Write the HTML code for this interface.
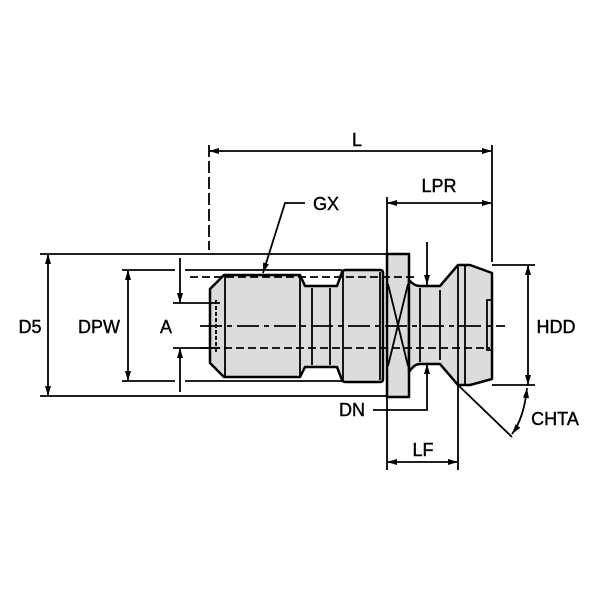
<!DOCTYPE html>
<html><head><style>body{margin:0;background:#fff}svg{display:block}text{font-family:"Liberation Sans",Arial,sans-serif;font-size:18px;fill:#000;stroke:#000;stroke-width:0.4}</style></head>
<body>
<svg width="600" height="600" viewBox="0 0 600 600" xmlns="http://www.w3.org/2000/svg">
<defs><marker id="a" viewBox="0 0 10 6" refX="10" refY="3" markerWidth="11" markerHeight="6" orient="auto-start-reverse" markerUnits="userSpaceOnUse"><path d="M0,0L10,3L0,6z" fill="#000"/></marker></defs>
<g fill="#dcdcdc" stroke="#000" stroke-width="2.5" stroke-linejoin="round">
<path d="M224,275 H300 L305,286 H337 L342,272 Q343,270 346,270 H380 Q383,270 383,273 V379 Q383,382 380,382 H346 Q343,382 342,380 L337,367 H305 L300,377 H224 L210,363 V289 Z"/>
<rect x="387" y="254" width="22" height="143"/>
<path d="M409,280 Q414,286 420,286 H440 L458,265 H470 L492,273 V379 L470,385 H458 L440,364 H420 Q414,364 409,372 Z"/>
</g>
<g stroke="#000" stroke-width="1.8" fill="none">
<line x1="225" y1="275" x2="225" y2="377"/><line x1="300" y1="275" x2="300" y2="377"/>
<line x1="312" y1="288" x2="312" y2="365"/><line x1="330" y1="288" x2="330" y2="365"/>
<line x1="343" y1="272" x2="343" y2="380"/><line x1="380" y1="272" x2="380" y2="380"/>
<line x1="388" y1="284" x2="408" y2="366"/><line x1="408" y1="284" x2="388" y2="366"/>
<line x1="420" y1="288" x2="420" y2="362"/><line x1="440" y1="290" x2="440" y2="360"/>
<line x1="458" y1="266" x2="458" y2="384"/><line x1="465" y1="266" x2="465" y2="384"/>
<path d="M492,300 H487 V350 H492"/>
<path d="M216,300 V352" stroke-dasharray="4,2"/>
<line x1="190" y1="277" x2="415" y2="277" stroke-dasharray="8,4"/>
<line x1="200" y1="348" x2="490" y2="348" stroke-dasharray="8,4"/>
<line x1="200" y1="326" x2="505" y2="326" stroke-dasharray="22,5,5,5"/>
<line x1="209" y1="145" x2="209" y2="250" stroke-dasharray="12,4"/>
<line x1="492" y1="145" x2="492" y2="262"/>
<line x1="209" y1="151" x2="492" y2="151" marker-start="url(#a)" marker-end="url(#a)"/>
<line x1="387" y1="197" x2="387" y2="254"/>
<line x1="387" y1="203" x2="492" y2="203" marker-start="url(#a)" marker-end="url(#a)"/>
<polyline points="305,203 285,203 263,273" marker-end="url(#a)"/>
<line x1="40" y1="254" x2="387" y2="254"/><line x1="40" y1="396" x2="387" y2="396"/>
<line x1="48" y1="254" x2="48" y2="396" marker-start="url(#a)" marker-end="url(#a)"/>
<line x1="122" y1="270" x2="175" y2="270"/><line x1="185" y1="270" x2="342" y2="270"/>
<line x1="122" y1="381" x2="175" y2="381"/><line x1="185" y1="381" x2="342" y2="381"/>
<line x1="128" y1="270" x2="128" y2="381" marker-start="url(#a)" marker-end="url(#a)"/>
<line x1="173" y1="303" x2="220" y2="303"/><line x1="173" y1="348" x2="220" y2="348"/>
<line x1="180" y1="258" x2="180" y2="303" marker-end="url(#a)"/>
<line x1="180" y1="392" x2="180" y2="348" marker-end="url(#a)"/>
<line x1="492" y1="265" x2="535" y2="265"/><line x1="492" y1="385" x2="535" y2="385"/>
<line x1="528" y1="265" x2="528" y2="385" marker-start="url(#a)" marker-end="url(#a)"/>
<line x1="458" y1="385" x2="512" y2="437"/>
<path d="M527,388 Q524,418 512,434" marker-start="url(#a)" marker-end="url(#a)"/>
<line x1="427" y1="242" x2="427" y2="285" marker-end="url(#a)"/>
<polyline points="373,410 427,410 427,364" marker-end="url(#a)"/>
<line x1="387" y1="398" x2="387" y2="470"/><line x1="458" y1="386" x2="458" y2="470"/>
<line x1="387" y1="462" x2="458" y2="462" marker-start="url(#a)" marker-end="url(#a)"/>
</g>
<text x="357" y="146" text-anchor="middle">L</text>
<text x="439" y="192" text-anchor="middle">LPR</text>
<text x="326" y="210" text-anchor="middle">GX</text>
<text x="30" y="333" text-anchor="middle">D5</text>
<text x="99" y="333" text-anchor="middle">DPW</text>
<text x="166" y="333" text-anchor="middle">A</text>
<text x="556" y="333" text-anchor="middle">HDD</text>
<text x="555" y="425" text-anchor="middle">CHTA</text>
<text x="352" y="416" text-anchor="middle">DN</text>
<text x="423" y="456" text-anchor="middle">LF</text>
</svg>
</body></html>
